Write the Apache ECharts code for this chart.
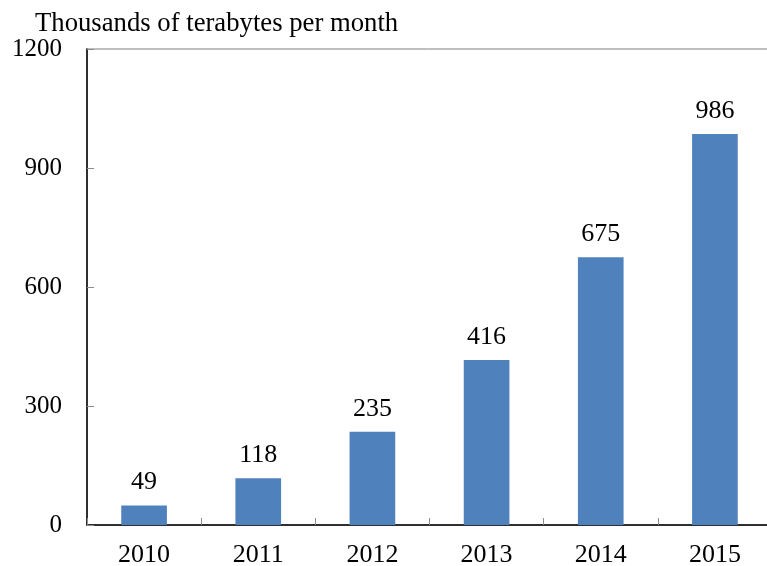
<!DOCTYPE html>
<html>
<head>
<meta charset="utf-8">
<script src="https://cdn.jsdelivr.net/npm/echarts@6/dist/echarts.min.js"></script>
<style>html,body{margin:0;padding:0;background:#fff;}#c{width:767px;height:566px;}</style>
</head>
<body>
<div id="c"></div>
<script>
const categories = ['2010', '2011', '2012', '2013', '2014', '2015'];
const values = [49, 118, 235, 416, 675, 986];
const yTicks = [0, 300, 600, 900, 1200];
const titleText = 'Thousands of terabytes per month';

const FONT = "'Liberation Serif', 'Times New Roman', serif";
const chart = echarts.init(document.getElementById('c'), null, {renderer: 'canvas'});
chart.setOption({
  animation: false,
  backgroundColor: '#fff',
  title: {
    text: titleText, left: 30, top: 5,
    textStyle: {fontFamily: FONT, fontSize: 26.7, fontWeight: 'normal', color: '#000'}
  },
  grid: {left: 87, right: -5, top: 49, bottom: 41, show: true, borderColor: '#7f7f7f', borderWidth: 1,
         backgroundColor: 'transparent', containLabel: false, outerBoundsMode: 'none'},
  xAxis: {
    type: 'category', data: categories,
    axisLine: {lineStyle: {color: '#000', width: 1.5}},
    axisTick: {show: true, inside: true, length: 7, lineStyle: {color: '#8c8c8c'}},
    axisLabel: {fontFamily: FONT, fontSize: 26, color: '#000', margin: 17}
  },
  yAxis: {
    type: 'value', min: yTicks[0], max: yTicks[yTicks.length - 1], interval: 300,
    axisLine: {show: true, lineStyle: {color: '#000', width: 1.5}},
    axisTick: {show: true, inside: true, length: 7, lineStyle: {color: '#8c8c8c'}},
    splitLine: {show: false},
    axisLabel: {fontFamily: FONT, fontSize: 25, color: '#000', margin: 25, formatter: v => String(v)}
  },
  series: [{
    type: 'bar', data: values, barWidth: '40%',
    itemStyle: {color: '#4f81bd'},
    label: {show: true, position: 'top', distance: 10, fontFamily: FONT, fontSize: 26, color: '#000'}
  }]
});
</script>
</body>
</html>
